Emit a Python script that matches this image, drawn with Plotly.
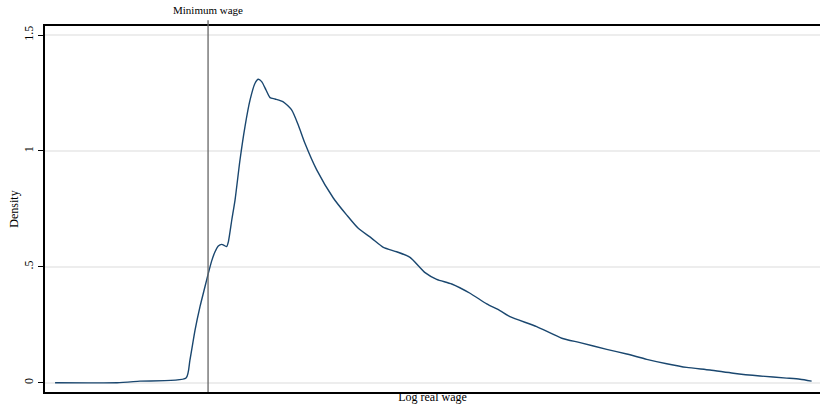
import plotly.graph_objects as go

# Log real wage (arbitrary units, no axis labels shown) and kernel density
log_wage = [0.065, 0.465, 0.613, 0.910, 0.935, 0.968, 1.000, 1.032, 1.054, 1.077,
            1.097, 1.118, 1.140, 1.155, 1.172, 1.183, 1.205, 1.226, 1.258, 1.290,
            1.323, 1.355, 1.376, 1.398, 1.426, 1.452, 1.484, 1.537, 1.592, 1.634,
            1.677, 1.753, 1.860, 1.947, 2.021, 2.108, 2.183, 2.269, 2.355, 2.452,
            2.527, 2.624, 2.742, 2.850, 2.935, 3.000, 3.172, 3.334, 3.452, 3.624,
            3.753, 3.882, 4.011, 4.140, 4.290, 4.441, 4.613, 4.785, 4.871, 4.946]
density = [0.000, 0.000, 0.007, 0.020, 0.098, 0.227, 0.328, 0.414, 0.473, 0.529,
           0.565, 0.590, 0.597, 0.593, 0.587, 0.608, 0.702, 0.788, 0.961, 1.104,
           1.220, 1.292, 1.309, 1.299, 1.263, 1.230, 1.224, 1.212, 1.176, 1.112,
           1.033, 0.918, 0.797, 0.723, 0.666, 0.623, 0.584, 0.565, 0.541, 0.475,
           0.446, 0.426, 0.386, 0.340, 0.311, 0.285, 0.242, 0.192, 0.173, 0.144,
           0.124, 0.101, 0.082, 0.066, 0.055, 0.041, 0.029, 0.020, 0.015, 0.007]
min_wage = 1.052
y_tickvals = [0, 0.5, 1, 1.5]
y_ticktext = ["0", ".5", "1", "1.5"]

FONT = "Liberation Serif, Times New Roman, serif"

fig = go.Figure()
fig.add_trace(go.Scatter(
    x=log_wage, y=density, mode="lines",
    line=dict(color="#1a476f", width=1.4, shape="spline", smoothing=0.6),
    showlegend=False, hoverinfo="skip"))

fig.add_shape(type="line", xref="x", yref="paper", x0=min_wage, x1=min_wage,
              y0=0, y1=1.016, line=dict(color="#666666", width=1.3))
fig.add_annotation(x=min_wage, xref="x", y=1.022, yref="paper", yanchor="bottom",
                   text="Minimum wage", showarrow=False,
                   font=dict(family=FONT, size=11, color="#000000"))

fig.update_layout(
    width=820, height=408,
    margin=dict(l=45, r=0, t=26, b=16),
    paper_bgcolor="white", plot_bgcolor="white",
    font=dict(family=FONT, size=12, color="#000000"),
    xaxis=dict(range=[0, 5], showticklabels=False, ticks="", showgrid=False,
               zeroline=False, showline=True, linecolor="#000000", linewidth=1.6,
               mirror=True, automargin=False,
               title=dict(text="Log real wage", standoff=0,
                          font=dict(family=FONT, size=12))),
    yaxis=dict(range=[-0.040, 1.539], tickvals=y_tickvals, ticktext=y_ticktext,
               tickangle=-90, ticks="outside", ticklen=5, tickcolor="#000000",
               tickwidth=1, showgrid=True, gridcolor="#ededed", gridwidth=1.5,
               zeroline=False, showline=True, linecolor="#000000", linewidth=1.6,
               automargin=False,
               tickfont=dict(family=FONT, size=12),
               title=dict(text="Density", standoff=1,
                          font=dict(family=FONT, size=12))),
)

fig.write_html("out.html",
               config={"displayModeBar": False},
               post_script="document.body.style.margin='0';document.body.style.overflow='hidden';")
